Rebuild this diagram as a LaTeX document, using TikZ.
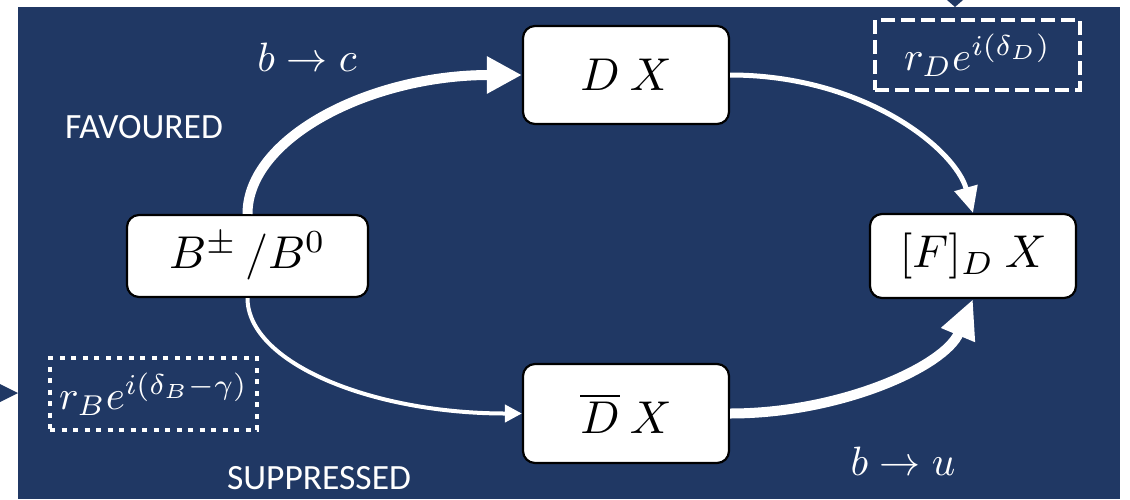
\documentclass[tikz,border=0pt]{standalone}
\usepackage[no-math]{fontspec}
\setmainfont{Carlito}
\usepackage{graphicx}
\usetikzlibrary{arrows.meta}
\definecolor{navy}{HTML}{203864}
% math set at 10pt and enlarged
\newcommand{\statemath}[1]{\scalebox{4.6}{$#1$}}
\newcommand{\labmath}[1]{\scalebox{4.1}{$#1$}}
\newcommand{\phasemath}[1]{\scalebox{4.1}{$#1$}}

\begin{document}
\begin{tikzpicture}[x=1pt,y=-1pt,
  box/.style={draw=black, line width=2.2pt, fill=white, rounded corners=12pt,
    inner sep=0pt, text=black},
  mathlab/.style={text=white, inner sep=0pt},
  wordlab/.style={text=white, inner sep=0pt, font=\fontsize{35.5}{40}\selectfont},
  phasebox/.style={draw=white, line width=4.5pt, inner sep=0pt, text=white},
  thickflow/.style={draw=white, line width=10pt},
  thinflow/.style={draw=white, line width=5pt},
]
\useasboundingbox (0,0) rectangle (1130,499);
\fill[white] (0,0) rectangle (1130,499);
\fill[navy] (18,7) rectangle (1120,499);

% arrow tips entering the panel from outside
\fill[navy] (947,0) -- (963,0) -- (955,7) -- cycle;
\fill[navy] (0,384) -- (0,402) -- (18,393) -- cycle;

% states
\node[box, minimum width=241pt, minimum height=82pt] (B) at (247.5,256) {\statemath{B^{\pm}\,/B^{0}}};
\node[box, minimum width=206pt, minimum height=98pt] (DX) at (626,75) {\statemath{D\ X}};
\node[box, minimum width=206pt, minimum height=99pt] (DbX) at (626,413.5) {\statemath{\overline{D}\ X}};
\node[box, minimum width=206pt, minimum height=84pt] (F) at (973,256) {\statemath{[F]_{D}\ X}};

% labels
\node[mathlab] (bc) at (307,57) {\labmath{b\to c}};
\node[mathlab] (bu) at (903,461) {\labmath{b\to u}};
\node[wordlab] (fav) at (144,127) {FAVOURED};
\node[wordlab] (sup) at (319,478) {SUPPRESSED};

% strong and weak phases
\node[phasebox, dash pattern=on 14pt off 6pt, minimum width=205pt, minimum height=70pt]
  (rD) at (977.5,55) {\phasemath{r_D e^{i(\delta_D)}}};
\node[phasebox, dash pattern=on 5pt off 6.5pt, minimum width=207pt, minimum height=72pt]
  (rB) at (153.5,394) {\phasemath{r_B e^{i(\delta_B-\gamma)}}};

% decay paths
\draw[thickflow, -{Triangle[length=35pt,width=35pt]}]
  (B.north) .. controls +(0,-76) and +(-152,0) .. (DX.west);
\draw[white, line width=4pt, -{Triangle[length=17pt,width=17pt]}]
  (B.south) .. controls +(0,64) and +(-152,0) .. (DbX.west);
\draw[thinflow, -{Triangle[length=26pt,width=23pt]}]
  (DX.east) .. controls +(134,0) and +(-18,-64) .. (F.north);
\draw[thickflow, -{Triangle[length=39pt,width=34pt]}]
  (DbX.east) .. controls +(111,0) and +(-28,67) .. (F.south);
\end{tikzpicture}
\end{document}
